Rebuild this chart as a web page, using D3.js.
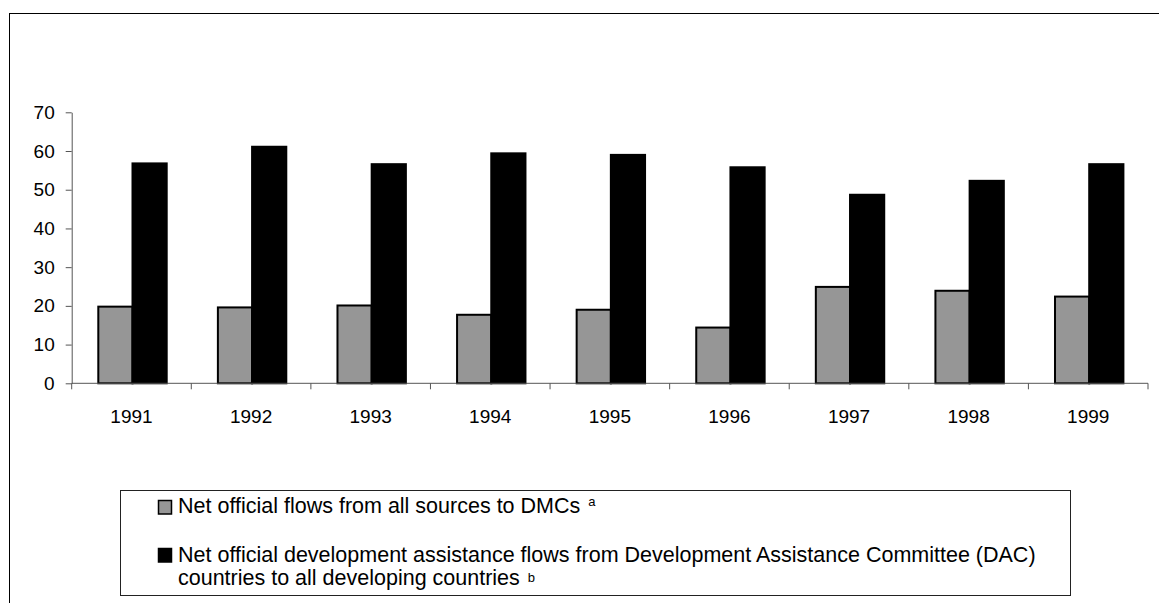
<!DOCTYPE html>
<html>
<head>
<meta charset="utf-8">
<script src="https://cdn.jsdelivr.net/npm/d3@7"></script>
<style>
  html, body { margin: 0; padding: 0; background: #fff; }
  svg { display: block; }
  text { font-family: "Liberation Sans", Arial, Helvetica, sans-serif; fill: #000; }
</style>
</head>
<body>
<svg id="chart" width="1159" height="603"></svg>
<script>
// Years on the category axis
const years = ["1991", "1992", "1993", "1994", "1995", "1996", "1997", "1998", "1999"];
// Net official flows from all sources to DMCs
const officialFlows = [19.8, 19.6, 20.1, 17.7, 19.0, 14.4, 24.9, 23.9, 22.4];
// Net ODA flows from DAC countries to all developing countries
const dacOda = [56.8, 61.1, 56.6, 59.4, 59.0, 55.8, 48.7, 52.3, 56.6];
// Value axis ticks
const yTicks = [0, 10, 20, 30, 40, 50, 60, 70];
// Legend entries: label text and footnote marker
const seriesLabels = [
  ["Net official flows from all sources to DMCs"],
  ["Net official development assistance flows from Development Assistance Committee (DAC)",
   "countries to all developing countries"]
];
const seriesNotes = ["a", "b"];
const seriesKeys = ["flows", "oda"];
const seriesFill = { flows: "#969696", oda: "#000000" };

const svg = d3.select("#chart");

// Outer frame (top and left edges visible)
svg.append("rect")
  .attr("x", 9.5).attr("y", 13.5)
  .attr("width", 1300).attr("height", 700)
  .attr("fill", "none").attr("stroke", "#000").attr("stroke-width", 1);

const plot = { left: 71.7, right: 1148, top: 112.3, bottom: 383.3 };

const x = d3.scaleBand().domain(years).range([plot.left, plot.right]).paddingInner(0).paddingOuter(0);
const xs = d3.scaleBand().domain(seriesKeys).range([26.6, 95]).paddingInner(0);
const y = d3.scaleLinear().domain([0, 70]).range([plot.bottom, plot.top]);

const rows = years.map((yr, i) => ({ year: yr, flows: officialFlows[i], oda: dacOda[i] }));

// Bars
const groups = svg.append("g").selectAll("g").data(rows).join("g")
  .attr("transform", d => `translate(${x(d.year)},0)`);

groups.selectAll("rect").data(d => seriesKeys.map(k => ({ key: k, value: d[k] }))).join("rect")
  .attr("x", d => xs(d.key))
  .attr("width", xs.bandwidth())
  .attr("y", d => y(d.value))
  .attr("height", d => y(0) - y(d.value))
  .attr("fill", d => seriesFill[d.key])
  .attr("stroke", "#000")
  .attr("stroke-width", 2);

// Value axis
const yAxis = svg.append("g")
  .attr("transform", `translate(${plot.left},0)`)
  .call(d3.axisLeft(y).tickValues(yTicks).tickSize(6).tickSizeOuter(0).tickPadding(11));
yAxis.select(".domain").attr("stroke", "#555");
yAxis.selectAll(".tick line").attr("stroke", "#555");
yAxis.selectAll("text").attr("font-size", 19).attr("font-family", "Liberation Sans, Arial, sans-serif");

// Category axis: baseline with ticks at the category boundaries
const xAxis = svg.append("g").attr("transform", `translate(0,${plot.bottom})`);
xAxis.append("line")
  .attr("x1", plot.left).attr("x2", plot.right)
  .attr("stroke", "#555").attr("stroke-width", 1);
const boundaries = years.map(d => x(d)).concat([x.range()[1]]);
xAxis.selectAll("line.b").data(boundaries).join("line")
  .attr("class", "b")
  .attr("x1", d => d).attr("x2", d => d)
  .attr("y1", 0).attr("y2", 6)
  .attr("stroke", "#555").attr("stroke-width", 1);

const xLabels = svg.append("g")
  .attr("transform", `translate(0,${plot.bottom})`)
  .call(d3.axisBottom(x).tickSize(0).tickPadding(26));
xLabels.select(".domain").remove();
xLabels.selectAll("text").attr("font-size", 19).attr("font-family", "Liberation Sans, Arial, sans-serif");

// Legend
const legend = svg.append("g");
legend.append("rect")
  .attr("x", 120.5).attr("y", 490.5)
  .attr("width", 950).attr("height", 105)
  .attr("fill", "#fff").attr("stroke", "#222").attr("stroke-width", 1);

const legendRows = [
  { key: "flows", lines: seriesLabels[0], note: seriesNotes[0], top: 500, base: 513 },
  { key: "oda", lines: seriesLabels[1], note: seriesNotes[1], top: 548, base: 562 }
];

legendRows.forEach(r => {
  legend.append("rect")
    .attr("x", 158.5).attr("y", r.top + 0.5)
    .attr("width", 13).attr("height", 13.5)
    .attr("fill", seriesFill[r.key])
    .attr("stroke", "#000").attr("stroke-width", 1.5);
  r.lines.forEach((ln, j) => {
    const t = legend.append("text")
      .attr("x", 178).attr("y", r.base + j * 22.5)
      .attr("font-size", 21.5);
    t.append("tspan").text(ln);
    if (j === r.lines.length - 1) {
      t.append("tspan")
        .attr("dx", 8).attr("dy", j > 0 ? -3 : -7)
        .attr("font-size", 13)
        .text(r.note);
    }
  });
});
</script>
</body>
</html>
